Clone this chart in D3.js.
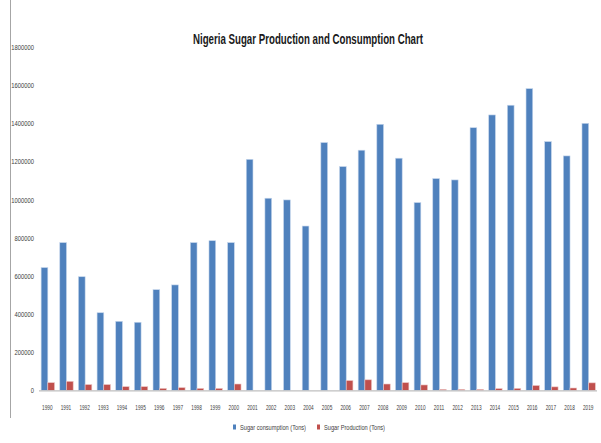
<!DOCTYPE html>
<html>
<head>
<meta charset="utf-8">
<script src="https://cdn.jsdelivr.net/npm/d3@7"></script>
<style>
  body { margin: 0; background: #fff; }
  text { font-family: "Liberation Sans Narrow", "Arial Narrow", "Liberation Sans", sans-serif; }
</style>
</head>
<body>
<div id="chart"></div>
<script>
// data
var years = ["1990","1991","1992","1993","1994","1995","1996","1997","1998","1999",
             "2000","2001","2002","2003","2004","2005","2006","2007","2008","2009",
             "2010","2011","2012","2013","2014","2015","2016","2017","2018","2019"];
var consumption = [644000, 775000, 596000, 407000, 362000, 357000, 528000, 553000, 775000, 785000,
                   775000, 1212000, 1008000, 999000, 862000, 1300000, 1174000, 1260000, 1396000, 1218000,
                   985000, 1111000, 1104000, 1378000, 1445000, 1496000, 1583000, 1305000, 1230000, 1401000];
var production = [40000, 47000, 30000, 30000, 19000, 19000, 10000, 14000, 10000, 10000,
                  33000, 0, 0, 0, 0, 0, 51000, 55000, 33000, 40000,
                  28000, 5000, 5000, 5000, 9000, 10000, 25000, 18000, 12000, 39000];
var yTicks = [0, 200000, 400000, 600000, 800000, 1000000, 1200000, 1400000, 1600000, 1800000];
var seriesNames = ["Sugar consumption (Tons)", "Sugar Production (Tons)"];
var colors = ["#4F81BD", "#C0504D"];

var width = 601, height = 443;

var svg = d3.select("#chart").append("svg")
    .attr("width", width)
    .attr("height", height);

// left frame line
svg.append("line")
    .attr("x1", 10.5).attr("x2", 10.5)
    .attr("y1", 0).attr("y2", 418)
    .attr("stroke", "#a6a6a6").attr("stroke-width", 1);

var x = d3.scaleBand()
    .domain(years)
    .range([38.5, 598]);

var y = d3.scaleLinear()
    .domain([0, 1800000])
    .range([390.3, 47.3]);

var barW = 6.7;

// title (narrow font is not installed, squeeze to the original width)
svg.append("text")
    .attr("x", 193).attr("y", 44)
    .attr("textLength", 230)
    .attr("lengthAdjust", "spacingAndGlyphs")
    .style("font-size", "14.5px")
    .style("font-weight", "bold")
    .attr("fill", "#1a1a1a")
    .text("Nigeria Sugar Production and Consumption Chart");

// y tick labels (no axis line)
svg.append("g").selectAll("text")
  .data(yTicks)
  .enter()
  .append("text")
    .attr("x", 34)
    .attr("y", d => y(d) + 2.8)
    .attr("text-anchor", "end")
    .attr("textLength", d => String(d).length * 3.25)
    .attr("lengthAdjust", "spacingAndGlyphs")
    .style("font-size", "7.5px")
    .attr("fill", "#404040")
    .text(d => d);

// bars
var groups = svg.append("g").selectAll("g")
  .data(years)
  .enter()
  .append("g")
    .attr("transform", d => "translate(" + (x(d) + x.bandwidth() / 2) + ",0)");

groups.append("rect")
    .attr("x", -barW)
    .attr("y", (d, i) => y(consumption[i]))
    .attr("width", barW)
    .attr("height", (d, i) => y(0) - y(consumption[i]))
    .attr("fill", colors[0])
    .attr("stroke", "#c5d6ec")
    .attr("stroke-width", 0.6);

groups.append("rect")
    .attr("x", 0)
    .attr("y", (d, i) => y(production[i]))
    .attr("width", barW)
    .attr("height", (d, i) => y(0) - y(production[i]))
    .attr("fill", colors[1])
    .attr("stroke", "#ecc5c4")
    .attr("stroke-width", 0.6);

// baseline
svg.append("line")
    .attr("x1", 39).attr("x2", 597)
    .attr("y1", y(0) + 0.5).attr("y2", y(0) + 0.5)
    .attr("stroke", "#bfbfbf").attr("stroke-width", 1.2);

// x labels
var xAxis = d3.axisBottom(x).tickSize(0).tickPadding(0);
var gx = svg.append("g")
    .attr("transform", "translate(-0.5,409.5)")
    .call(xAxis);
gx.select(".domain").remove();
gx.selectAll("text")
    .attr("dy", 0)
    .attr("textLength", 10.5)
    .attr("lengthAdjust", "spacingAndGlyphs")
    .style("font-size", "7.5px")
    .attr("fill", "#404040")
    .attr("font-family", null);

// legend
var legendX = [233, 317];
var legendW = [66, 61];
var legend = svg.append("g").selectAll("g")
  .data(seriesNames)
  .enter()
  .append("g")
    .attr("transform", (d, i) => "translate(" + legendX[i] + ",428)");

legend.append("rect")
    .attr("x", 0).attr("y", -3.5)
    .attr("width", 3).attr("height", 5)
    .attr("fill", (d, i) => colors[i]);

legend.append("text")
    .attr("x", 7).attr("y", 1.5)
    .attr("textLength", (d, i) => legendW[i])
    .attr("lengthAdjust", "spacingAndGlyphs")
    .style("font-size", "7px")
    .attr("fill", "#404040")
    .text(d => d);
</script>
</body>
</html>
